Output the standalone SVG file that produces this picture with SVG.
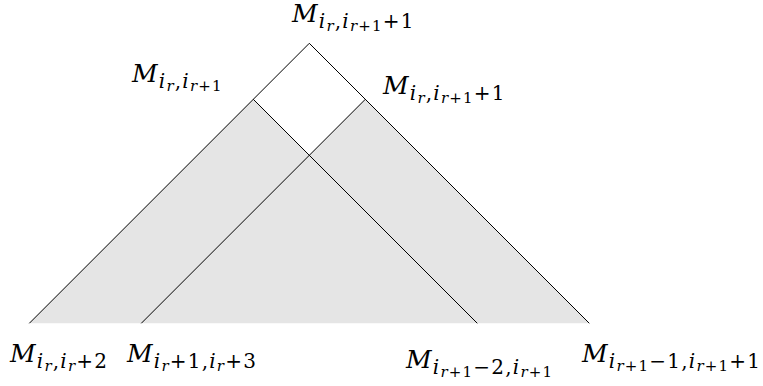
<svg xmlns="http://www.w3.org/2000/svg" width="763" height="386" viewBox="0 0 763 386">
<style>
text{font-family:"DejaVu Serif","Liberation Serif",serif;fill:#000;letter-spacing:1.2px}
.m{font-size:25px;font-style:italic}
.a{font-size:20px}
.b{font-size:15px}
.it{font-style:italic}
.ln{stroke:#000;stroke-width:1;fill:none}
</style>
<rect width="763" height="386" fill="#fff"/>
<g id="shapes">
<polygon points="309.3,43.3 589.3,323.3 29.3,323.3" fill="#e5e5e5"/>
<polygon points="309.3,43.3 365.3,99.3 309.3,155.3 253.3,99.3" fill="#fff"/>
</g>
<g id="connectors">
<line class="ln" x1="309.3" y1="43.3" x2="29.3" y2="323.3"/>
<line class="ln" x1="309.3" y1="43.3" x2="589.3" y2="323.3"/>
<line class="ln" x1="253.3" y1="99.3" x2="477.3" y2="323.3"/>
<line class="ln" x1="365.3" y1="99.3" x2="141.3" y2="323.3"/>
</g>
<g id="label-top">
<text x="292" y="22"><tspan class="m">M</tspan><tspan class="a it" dy="6">i</tspan><tspan class="b it" dy="3">r</tspan><tspan class="a" dy="-3">,</tspan><tspan class="a it">i</tspan><tspan class="b" dy="3"><tspan class="it">r</tspan>+1</tspan><tspan class="a" dy="-3">+1</tspan></text>
</g>
<g id="label-left">
<text x="132" y="82"><tspan class="m">M</tspan><tspan class="a it" dy="6">i</tspan><tspan class="b it" dy="3">r</tspan><tspan class="a" dy="-3">,</tspan><tspan class="a it">i</tspan><tspan class="b" dy="3"><tspan class="it">r</tspan>+1</tspan></text>
</g>
<g id="label-right">
<text x="383" y="94"><tspan class="m">M</tspan><tspan class="a it" dy="6">i</tspan><tspan class="b it" dy="3">r</tspan><tspan class="a" dy="-3">,</tspan><tspan class="a it">i</tspan><tspan class="b" dy="3"><tspan class="it">r</tspan>+1</tspan><tspan class="a" dy="-3">+1</tspan></text>
</g>
<g id="label-b1">
<text x="10" y="362"><tspan class="m">M</tspan><tspan class="a it" dy="6">i</tspan><tspan class="b it" dy="3">r</tspan><tspan class="a" dy="-3">,<tspan class="it">i</tspan></tspan><tspan class="b it" dy="3">r</tspan><tspan class="a" dy="-3">+2</tspan></text>
</g>
<g id="label-b2">
<text x="127" y="362"><tspan class="m">M</tspan><tspan class="a it" dy="6">i</tspan><tspan class="b it" dy="3">r</tspan><tspan class="a" dy="-3">+1,<tspan class="it">i</tspan></tspan><tspan class="b it" dy="3">r</tspan><tspan class="a" dy="-3">+3</tspan></text>
</g>
<g id="label-b3">
<text x="406" y="368"><tspan class="m">M</tspan><tspan class="a it" dy="6">i</tspan><tspan class="b" dy="3"><tspan class="it">r</tspan>+1</tspan><tspan class="a" dy="-3">−2,<tspan class="it">i</tspan></tspan><tspan class="b" dy="3"><tspan class="it">r</tspan>+1</tspan></text>
</g>
<g id="label-b4">
<text x="582" y="362"><tspan class="m">M</tspan><tspan class="a it" dy="6">i</tspan><tspan class="b" dy="3"><tspan class="it">r</tspan>+1</tspan><tspan class="a" dy="-3">−1,<tspan class="it">i</tspan></tspan><tspan class="b" dy="3"><tspan class="it">r</tspan>+1</tspan><tspan class="a" dy="-3">+1</tspan></text>
</g>
</svg>
